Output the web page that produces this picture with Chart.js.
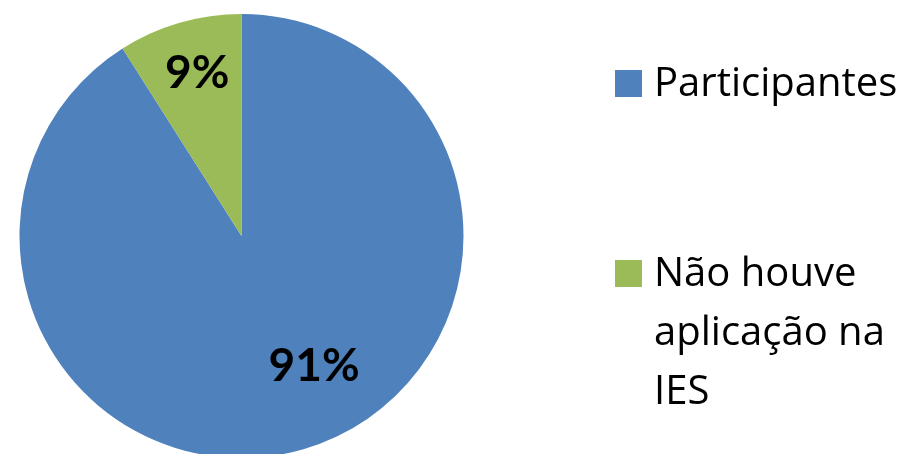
<!DOCTYPE html>
<html>
<head>
<meta charset="utf-8">
<script src="https://cdn.jsdelivr.net/npm/chart.js@4"></script>
<style>
  html, body { margin: 0; padding: 0; background: #fff; overflow: hidden; }
  #wrap { position: relative; width: 914px; height: 458px; }
  .legend { position: absolute; left: 615px; top: 0; font-family: "Open Sans", Lato, sans-serif; font-size: 40px; line-height: 59px; color: #000; }
  .legend .item { position: absolute; left: 0; white-space: nowrap; }
  .legend .box { position: absolute; left: 0; width: 27px; height: 27px; }
  .legend .txt { position: absolute; left: 39px; }
</style>
</head>
<body>
<div id="wrap">
  <canvas id="myChart" width="914" height="458"></canvas>
  <div class="legend" id="legend"></div>
</div>
<script>
const labels = ["Participantes", "Não houve aplicação na IES"];
const legendLines = [["Participantes"], ["Não houve", "aplicação na", "IES"]];
const values = [91, 9];
const colors = ["#4F81BD", "#9BBB59"];

// where each percentage sits: angle shift (deg) and fraction of the radius
const labelPlace = [
  { shift: -13, dist: 0.67 },
  { shift: 1, dist: 0.76 },
];

const pctLabels = {
  id: "pctLabels",
  afterDatasetsDraw(chart) {
    const { ctx } = chart;
    const meta = chart.getDatasetMeta(0);
    ctx.save();
    ctx.font = "bold 46px Lato, 'Open Sans', sans-serif";
    ctx.fillStyle = "#000";
    ctx.textAlign = "center";
    ctx.textBaseline = "middle";
    meta.data.forEach((arc, i) => {
      const p = arc.getProps(["x", "y", "startAngle", "endAngle", "outerRadius"], true);
      const mid = (p.startAngle + p.endAngle) / 2 + labelPlace[i].shift * Math.PI / 180;
      const r = p.outerRadius * labelPlace[i].dist;
      ctx.fillText(values[i] + "%", p.x + Math.cos(mid) * r, p.y + Math.sin(mid) * r);
    });
    ctx.restore();
  },
};

new Chart(document.getElementById("myChart"), {
  type: "pie",
  data: {
    labels: labels,
    datasets: [
      {
        data: values,
        backgroundColor: colors,
        borderWidth: 0,
      },
    ],
  },
  options: {
    responsive: false,
    animation: false,
    layout: { padding: { left: 19, top: 14, right: 450, bottom: 0 } },
    plugins: {
      legend: { display: false },
      tooltip: { enabled: false },
    },
  },
  plugins: [pctLabels],
});

// legend on the right, with wrapped text for the long entry
const legendTops = [70, 260];
const legend = document.getElementById("legend");
legendLines.forEach((lines, i) => {
  const item = document.createElement("div");
  item.className = "item";
  item.style.top = legendTops[i] + "px";
  const box = document.createElement("div");
  box.className = "box";
  box.style.background = colors[i];
  box.style.top = "0px";
  const txt = document.createElement("div");
  txt.className = "txt";
  txt.style.top = "-19px";
  txt.innerHTML = lines.join("<br>");
  item.appendChild(box);
  item.appendChild(txt);
  legend.appendChild(item);
});
</script>
</body>
</html>
